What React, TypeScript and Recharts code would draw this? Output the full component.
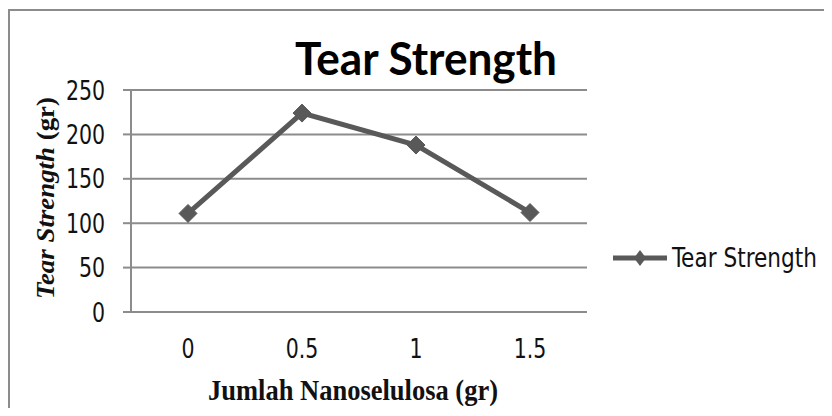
import {
  LineChart,
  Line,
  XAxis,
  YAxis,
  CartesianGrid,
  Legend,
  Label,
} from "recharts";

const nanoselulosa = [0, 0.5, 1, 1.5];
const tearStrength = [111, 224, 188, 112];
const xTickLabels = ["0", "0.5", "1", "1.5"];
const yTicks = [0, 50, 100, 150, 200, 250];
const categoryEdges = [-0.25, 0.25, 0.75, 1.25, 1.75];
const seriesName = "Tear Strength";

const data = nanoselulosa.map((x, i) => ({ x, value: tearStrength[i] }));

const LINE = "#595959";
const GRID = "#8c8c8c";
const narrow = "'DejaVu Sans Condensed', 'Liberation Sans Narrow', 'Roboto', sans-serif";
const serif = "'Liberation Serif', 'DejaVu Serif', serif";

function Diamond(props: any) {
  const { cx, cy } = props;
  if (cx == null || cy == null) return null;
  const r = 9;
  return (
    <polygon
      points={`${cx},${cy - r} ${cx + r},${cy} ${cx},${cy + r} ${cx - r},${cy}`}
      fill={LINE}
      stroke={LINE}
    />
  );
}

// tick text drawn a little taller than wide, like the stretched original
function TallTick(props: any) {
  const { x, y, payload, textAnchor, tickFormatter, verticalAnchor } = props;
  const label = tickFormatter ? tickFormatter(payload.value) : String(payload.value);
  const dy = verticalAnchor === "start" ? "0.75em" : "0.36em";
  return (
    <g transform={`translate(${x},${y}) scale(0.95,1.12)`}>
      <text
        x={0}
        y={0}
        dy={dy}
        textAnchor={textAnchor}
        fontFamily={narrow}
        fontSize={24}
        fill="#111"
      >
        {label}
      </text>
    </g>
  );
}

function YTitle(props: any) {
  const { viewBox } = props;
  const cx = viewBox.x + 37;
  const cy = viewBox.y + viewBox.height / 2 - 3;
  return (
    <text
      x={cx}
      y={cy}
      transform={`rotate(-90 ${cx} ${cy})`}
      textAnchor="middle"
      dominantBaseline="central"
      fontFamily={serif}
      fontWeight="bold"
      fontSize={25}
      fill="#111"
      textLength={202}
      lengthAdjust="spacingAndGlyphs"
    >
      <tspan fontStyle="italic">Tear Strength</tspan> (gr)
    </text>
  );
}

function XTitle(props: any) {
  const { viewBox } = props;
  const cx = viewBox.x + viewBox.width / 2 - 6;
  return (
    <text
      x={cx}
      y={viewBox.y + 88}
      textAnchor="middle"
      fontFamily={serif}
      fontWeight="bold"
      fontSize={29}
      fill="#111"
      textLength={290}
      lengthAdjust="spacingAndGlyphs"
    >
      Jumlah Nanoselulosa (gr)
    </text>
  );
}

function LegendBox(props: any) {
  const item = props.payload?.[0];
  return (
    <svg width={215} height={30} style={{ display: "block" }}>
      <line x1={0} y1={15} x2={54} y2={15} stroke={LINE} strokeWidth={5} />
      <polygon points="27,7 33,15 27,23 21,15" fill={LINE} />
      <text
        x={59}
        y={15}
        dominantBaseline="central"
        fontFamily={narrow}
        fontSize={26}
        fill="#111"
        textLength={145}
        lengthAdjust="spacingAndGlyphs"
      >
        {item ? item.value : seriesName}
      </text>
    </svg>
  );
}

export default function App() {
  return (
    <div style={{ position: "relative", width: 818, height: 400 }}>
      <div
        style={{
          position: "absolute",
          left: 0,
          top: 1,
          width: 818,
          height: 420,
          boxSizing: "border-box",
          border: `2px solid ${GRID}`,
        }}
      />
      <svg
        width={818}
        height={82}
        style={{ position: "absolute", left: 0, top: 0 }}
      >
        <text
          x={418}
          y={67}
          textAnchor="middle"
          fontFamily="Lato, 'Open Sans', sans-serif"
          fontWeight="bold"
          fontSize={46}
          fill="#000"
          textLength={262}
          lengthAdjust="spacingAndGlyphs"
        >
          Tear Strength
        </text>
      </svg>
      <div style={{ position: "absolute", left: 0, top: 0 }}>
        <LineChart
          width={818}
          height={400}
          data={data}
          margin={{ top: 82, right: 239, bottom: 16, left: 0 }}
        >
          <CartesianGrid
            xAxisId="main"
            vertical={false}
            stroke={GRID}
            strokeWidth={2}
          />
          <XAxis
            xAxisId="edges"
            type="number"
            dataKey="x"
            domain={[-0.25, 1.75]}
            allowDataOverflow
            ticks={categoryEdges}
            tick={false}
            tickSize={8}
            height={0}
            axisLine={{ stroke: GRID, strokeWidth: 2 }}
            tickLine={{ stroke: GRID, strokeWidth: 2 }}
          />
          <XAxis
            xAxisId="main"
            type="number"
            dataKey="x"
            domain={[-0.25, 1.75]}
            allowDataOverflow
            ticks={nanoselulosa}
            tickFormatter={(v: number) => xTickLabels[nanoselulosa.indexOf(v)]}
            axisLine={false}
            tickLine={false}
            tickSize={0}
            tickMargin={26}
            height={80}
            tick={<TallTick />}
          >
            <Label content={XTitle} />
          </XAxis>
          <YAxis
            domain={[0, 250]}
            ticks={yTicks}
            width={123}
            tickSize={8}
            tickMargin={18}
            axisLine={{ stroke: GRID, strokeWidth: 2 }}
            tickLine={{ stroke: GRID, strokeWidth: 2 }}
            tick={<TallTick />}
          >
            <Label content={YTitle} />
          </YAxis>
          <Legend
            layout="vertical"
            align="center"
            verticalAlign="middle"
            content={LegendBox}
            wrapperStyle={{ left: 605, top: 235, width: 215 }}
          />
          <Line
            xAxisId="main"
            type="linear"
            dataKey="value"
            name={seriesName}
            stroke={LINE}
            strokeWidth={5}
            dot={<Diamond />}
            activeDot={false}
            isAnimationActive={false}
          />
        </LineChart>
      </div>
    </div>
  );
}
